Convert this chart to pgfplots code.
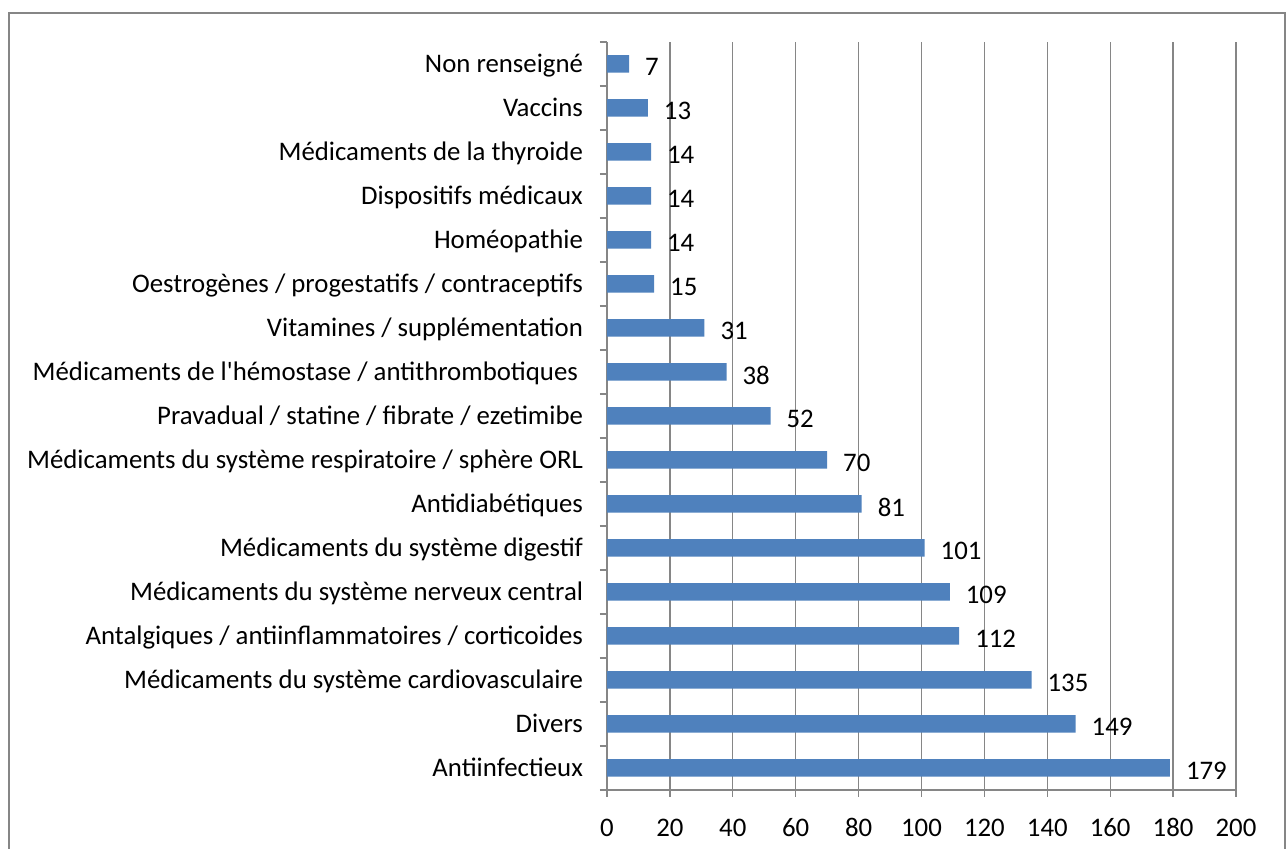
\documentclass[border=0pt]{standalone}
\usepackage{fontspec}
\setmainfont{Carlito}
\usepackage{pgfplots}
\pgfplotsset{compat=1.18}
\definecolor{barblue}{HTML}{4F81BD}
\definecolor{gridgray}{HTML}{868686}

\begin{document}
\begin{tikzpicture}
\useasboundingbox (0,0) rectangle (643.5pt,424.5pt);
% outer chart frame (bottom edge lies outside the picture)
\draw[gridgray, line width=1pt] (4.5pt,-2pt) -- (4.5pt,418pt) -- (642.5pt,418pt) -- (642.5pt,-2pt);
\begin{axis}[
  at={(303.5pt,29.5pt)}, anchor=south west,
  scale only axis, width=314.5pt, height=374pt,
  xbar, bar width=8.75pt,
  xmin=0, xmax=200, ymin=-0.5, ymax=16.5,
  xtick={0,20,...,200},
  ytick={0,...,16},
  yticklabels={Antiinfectieux, Divers, Médicaments du système cardiovasculaire,
    Antalgiques / antiinflammatoires / corticoides,
    Médicaments du système nerveux central, Médicaments du système digestif,
    Antidiabétiques, Médicaments du système respiratoire / sphère ORL,
    Pravadual / statine / fibrate / ezetimibe,
    Médicaments de l\textquotesingle hémostase / antithrombotiques\hspace*{2.5pt},
    Vitamines / supplémentation, Oestrogènes / progestatifs / contraceptifs,
    Homéopathie, Dispositifs médicaux, Médicaments de la thyroide,
    Vaccins, Non renseigné},
  minor ytick={-0.5,0.5,...,16.5},
  every major y tick/.append style={draw=none},
  axis x line*=bottom, axis y line*=left,
  axis line style={gridgray, line width=0.65pt},
  tick style={gridgray, line width=0.65pt},
  tick align=outside,
  major tick length=3.5pt, minor tick length=3.5pt,
  xmajorgrids, grid style={gridgray, line width=0.65pt},
  /pgf/number format/assume math mode=true,
  typeset ticklabels with strut,
  tick label style={font=\fontsize{13.4}{16}\selectfont, black},
  xticklabel style={yshift=-5pt},
  yticklabel style={xshift=-5pt, yshift=-1pt},
  nodes near coords,
  every node near coord/.append style={font=\fontsize{13.4}{16}\selectfont,
    black, anchor=west, xshift=4.5pt, yshift=-1.5pt},
]
\addplot[fill=barblue, draw=none] coordinates {
  (179,0) (149,1) (135,2) (112,3) (109,4) (101,5) (81,6) (70,7)
  (52,8) (38,9) (31,10) (15,11) (14,12) (14,13) (14,14) (13,15) (7,16)
};
\end{axis}
\end{tikzpicture}
\end{document}
